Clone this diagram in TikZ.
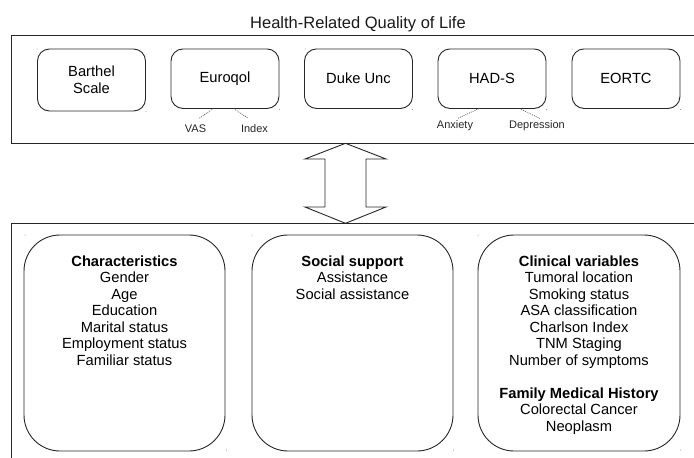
\documentclass[tikz,border=0pt]{standalone}
\usepackage{fontspec}
\setmainfont{Liberation Sans}
\begin{document}
\begin{tikzpicture}[x=1pt,y=-1pt,
  frame/.style={draw=black!85, line width=0.9pt, inner sep=0pt, outer sep=0pt},
  scalebox/.style={draw=black!85, line width=0.9pt, rounded corners=12pt, minimum width=108pt,
    inner sep=0pt, outer sep=0pt, align=center, font=\fontsize{14.7}{17}\selectfont},
  groupbox/.style={draw=black!85, line width=0.9pt, rounded corners=36pt, minimum height=216pt,
    inner sep=0pt, outer sep=0pt},
  grouptext/.style={anchor=north, inner sep=0pt, align=center, font=\fontsize{14.7}{16.5}\selectfont},
  sublabel/.style={anchor=base, inner sep=0pt, font=\fontsize{11}{13}\selectfont, text=black!85},
  subline/.style={draw=black!70, line width=0.6pt, dash pattern=on 1pt off 1pt},
  marker/.style={fill=black!45, draw=none},
  bigarrow/.style={draw=black!85, line width=0.9pt, line join=miter}
]
\useasboundingbox (0,0) rectangle (694,458);
\clip (0,0) rectangle (694,458);

% title and frames
\node[anchor=base, inner sep=0pt, font=\fontsize{16.5}{19}\selectfont, text=black!90] (title) at (358,28.3) {Health-Related Quality of Life};
\node[frame, anchor=north west, minimum width=720pt, minimum height=107.5pt] (hrql) at (11,35.8) {};
\node[frame, anchor=north west, minimum width=720pt, minimum height=260pt] (factors) at (11,223.3) {};

% scales
\node[scalebox, minimum height=62pt] (barthel) at (91.5,80) {Barthel\\Scale};
\node[scalebox, minimum height=59.5pt] (euro) at (225,78.7) {Euroqol};
\node[scalebox, minimum height=59.5pt] (duke) at (358.5,78.7) {Duke Unc};
\node[scalebox, minimum height=59.5pt] (hads) at (492,78.7) {HAD-S};
\node[scalebox, minimum height=59.5pt] (eortc) at (626,78.7) {EORTC};

% sub labels
\node[sublabel] (vas) at (195.5,132) {VAS};
\node[sublabel] (index) at (254.5,132) {Index};
\node[sublabel] (anx) at (455,128.5) {Anxiety};
\node[sublabel] (dep) at (537,128.5) {Depression};
\coordinate (e1) at (213.3,108.5); \coordinate (e1e) at (199.3,118.3);
\coordinate (e2) at (233.3,108.5); \coordinate (e2e) at (248.3,118.3);
\coordinate (h1) at (479,108.5);   \coordinate (h1e) at (457.5,118.5);
\coordinate (h2) at (519.5,108.5); \coordinate (h2e) at (540,118.5);
\draw[subline] (e1) -- (e1e);
\draw[subline] (e2) -- (e2e);
\draw[subline] (h1) -- (h1e);
\draw[subline] (h2) -- (h2e);

% double arrow
\draw[bigarrow] (hrql.south -| 345.5,0) -- (386,159) -- (366,159) -- (366,207) -- (386,207)
  -- (factors.north -| 345.5,0) -- (305,207) -- (325,207) -- (325,159) -- (305,159) -- cycle;

% group boxes
\node[groupbox, minimum width=201pt] (charbox) at (124.5,343) {};
\node[groupbox, minimum width=201pt] (socbox) at (352.5,343) {};
\node[groupbox, minimum width=202pt] (clinbox) at (579,343) {};

\node[grouptext] (chartext) at (124.5,255.6) {\textbf{Characteristics}\\Gender\\Age\\Education\\Marital status\\Employment status\\Familiar status};
\node[grouptext] (soctext) at (352.5,255.6) {\textbf{Social support}\\Assistance\\Social assistance};
\node[grouptext] (clintext) at (579,255.6) {\textbf{Clinical variables}\\Tumoral location\\Smoking status\\ASA classification\\Charlson Index\\TNM Staging\\Number of symptoms\\[16.5pt]\textbf{Family Medical History}\\Colorectal Cancer\\Neoplasm};

% tiny corner markers
\foreach \p in {(37,49),(146,111.5),(171,49),(279.5,109.5),(305,49),(412.5,109.5),(438,49),(546.5,109.5),(572,49),(680.5,109.5),(25,235),(226.5,450),(252,235),(453.5,450),(478,235),(680.5,450)}
  \fill[marker] \p circle (0.5pt);
\end{tikzpicture}
\end{document}
